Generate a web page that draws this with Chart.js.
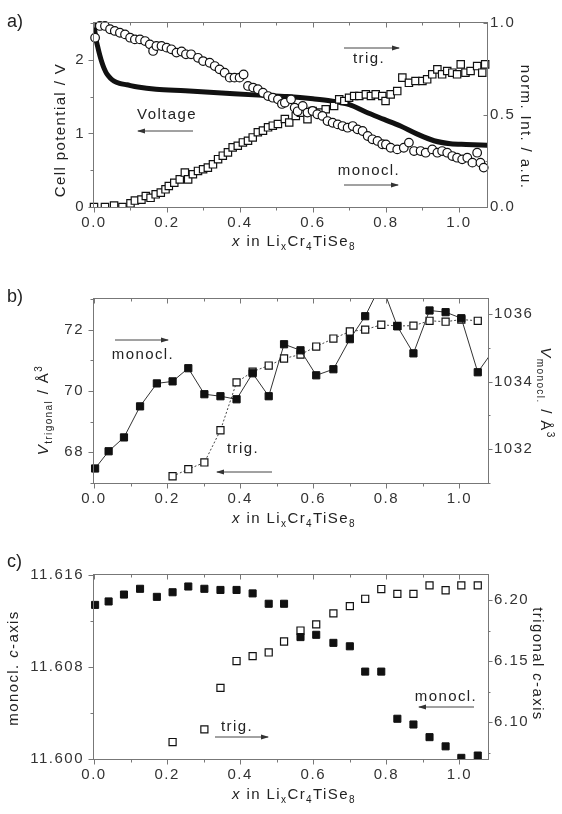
<!DOCTYPE html>
<html>
<head>
<meta charset="utf-8">
<script src="https://cdn.jsdelivr.net/npm/chart.js@4/dist/chart.umd.min.js"></script>
<style>
  body { margin: 0; background: #fff; }
  #page { position: relative; width: 562px; height: 814px; overflow: hidden; }
  canvas { position: absolute; left: 0; }
  svg { position: absolute; left: 0; top: 0; pointer-events: none; }
  svg text { font-family: 'Liberation Sans', Arial, sans-serif; font-size: 15px; letter-spacing: 1.4px; fill: #222; }
  svg .lbl { font-size: 18px; letter-spacing: 0; }
</style>
</head>
<body>
<div id="page">
  <canvas id="chartA" width="562" height="262" style="top:0"></canvas>
  <canvas id="chartB" width="562" height="270" style="top:262px"></canvas>
  <canvas id="chartC" width="562" height="282" style="top:532px"></canvas>
  <svg width="562" height="814">
    <defs>
      <marker id="ah" markerWidth="8" markerHeight="6" refX="7" refY="3" orient="auto" markerUnits="userSpaceOnUse">
        <path d="M0,0.5 L8,3 L0,5.5 z" fill="#333"/>
      </marker>
    </defs>
    <!-- panel labels -->
    <text class="lbl" x="7" y="27">a)</text>
    <text class="lbl" x="7" y="302">b)</text>
    <text class="lbl" x="7" y="567">c)</text>

    <!-- panel a -->
    <text transform="translate(65,130) rotate(-90)" text-anchor="middle">Cell potential / V</text>
    <text transform="translate(521,127) rotate(90)" text-anchor="middle">norm. Int. / a.u.</text>
    <text x="294" y="246" text-anchor="middle"><tspan font-style="italic">x</tspan> in Li<tspan font-size="10" dy="4">x</tspan><tspan dy="-4">Cr</tspan><tspan font-size="10" dy="4">4</tspan><tspan dy="-4">TiSe</tspan><tspan font-size="10" dy="4">8</tspan></text>
    <text x="167" y="119" text-anchor="middle">Voltage</text>
    <line x1="193" y1="131" x2="138" y2="131" stroke="#444" marker-end="url(#ah)"/>
    <text x="369" y="63" text-anchor="middle">trig.</text>
    <line x1="344" y1="48" x2="399" y2="48" stroke="#444" marker-end="url(#ah)"/>
    <text x="369" y="175" text-anchor="middle">monocl.</text>
    <line x1="344" y1="185" x2="398" y2="185" stroke="#444" marker-end="url(#ah)"/>

    <!-- panel b -->
    <text transform="translate(48,410) rotate(-90)" text-anchor="middle"><tspan font-style="italic">V</tspan><tspan font-size="10" dy="4">trigonal</tspan><tspan dy="-4"> / Å</tspan><tspan font-size="10" dy="-6">3</tspan></text>
    <text transform="translate(541,393) rotate(90)" text-anchor="middle"><tspan font-style="italic">V</tspan><tspan font-size="10" dy="4">monocl.</tspan><tspan dy="-4"> / Å</tspan><tspan font-size="10" dy="-6">3</tspan></text>
    <text x="294" y="523" text-anchor="middle"><tspan font-style="italic">x</tspan> in Li<tspan font-size="10" dy="4">x</tspan><tspan dy="-4">Cr</tspan><tspan font-size="10" dy="4">4</tspan><tspan dy="-4">TiSe</tspan><tspan font-size="10" dy="4">8</tspan></text>
    <text x="143" y="359" text-anchor="middle">monocl.</text>
    <line x1="115" y1="340" x2="168" y2="340" stroke="#444" marker-end="url(#ah)"/>
    <text x="243" y="453" text-anchor="middle">trig.</text>
    <line x1="272" y1="472" x2="217" y2="472" stroke="#444" marker-end="url(#ah)"/>

    <!-- panel c -->
    <text transform="translate(18,668) rotate(-90)" text-anchor="middle">monocl. <tspan font-style="italic">c</tspan>-axis</text>
    <text transform="translate(533,664) rotate(90)" text-anchor="middle">trigonal <tspan font-style="italic">c</tspan>-axis</text>
    <text x="294" y="799" text-anchor="middle"><tspan font-style="italic">x</tspan> in Li<tspan font-size="10" dy="4">x</tspan><tspan dy="-4">Cr</tspan><tspan font-size="10" dy="4">4</tspan><tspan dy="-4">TiSe</tspan><tspan font-size="10" dy="4">8</tspan></text>
    <text x="237" y="731" text-anchor="middle">trig.</text>
    <line x1="215" y1="737" x2="268" y2="737" stroke="#444" marker-end="url(#ah)"/>
    <text x="446" y="701" text-anchor="middle">monocl.</text>
    <line x1="474" y1="707" x2="419" y2="707" stroke="#444" marker-end="url(#ah)"/>
  </svg>
</div>
<script>
// ---- panel a: voltage curve (left axis) and normalised intensities (right axis)
const aVoltX = [0, 0.004, 0.01, 0.016, 0.022, 0.028, 0.035, 0.045, 0.055, 0.07, 0.09, 0.12, 0.17, 0.25, 0.35, 0.45, 0.53, 0.6, 0.65, 0.7, 0.745, 0.795, 0.84, 0.886, 0.932, 0.977, 1.02, 1.08];
const aVolt  = [2.5, 2.32, 2.18, 2.06, 1.96, 1.88, 1.81, 1.75, 1.71, 1.68, 1.66, 1.63, 1.60, 1.58, 1.55, 1.52, 1.50, 1.47, 1.44, 1.39, 1.29, 1.19, 1.10, 0.99, 0.90, 0.86, 0.85, 0.84];

const aMonoX = [0.003,0.016,0.030,0.044,0.057,0.071,0.085,0.099,0.112,0.126,0.140,0.153,0.162,0.171,0.185,0.199,0.212,0.226,0.240,0.252,
                0.266,0.285,0.299,0.317,0.331,0.344,0.358,0.372,0.385,0.399,0.410,0.422,0.436,0.449,0.463,0.477,0.490,0.504,0.515,0.523,
                0.540,0.550,0.558,0.572,0.585,0.599,0.612,0.626,0.640,0.654,0.668,0.681,0.695,0.709,0.722,0.736,0.750,0.763,0.777,0.790,
                0.800,0.813,0.831,0.849,0.863,0.877,0.895,0.909,0.927,0.941,0.954,0.968,0.982,0.995,1.009,1.023,1.037,1.050,1.059,1.068];
const aMono  = [0.920,0.984,0.984,0.966,0.957,0.947,0.938,0.920,0.911,0.911,0.902,0.884,0.848,0.875,0.875,0.866,0.857,0.839,0.845,0.830,
                0.830,0.811,0.793,0.784,0.766,0.748,0.730,0.703,0.703,0.703,0.720,0.658,0.649,0.640,0.621,0.603,0.594,0.585,0.560,0.567,
                0.585,0.540,0.520,0.549,0.513,0.522,0.504,0.495,0.467,0.458,0.449,0.440,0.431,0.440,0.422,0.413,0.386,0.368,0.359,0.341,
                0.340,0.322,0.313,0.322,0.350,0.304,0.304,0.295,0.313,0.295,0.304,0.295,0.277,0.268,0.259,0.268,0.241,0.295,0.241,0.214];

const aTrigX = [0.000,0.030,0.055,0.078,0.100,0.112,0.130,0.142,0.155,0.169,0.183,0.196,0.205,0.220,0.235,0.249,0.258,0.271,0.285,0.299,
                0.312,0.326,0.340,0.353,0.367,0.380,0.394,0.408,0.422,0.435,0.449,0.463,0.477,0.490,0.504,0.523,0.535,0.553,0.567,0.585,
                0.599,0.617,0.635,0.658,0.672,0.686,0.699,0.713,0.727,0.745,0.759,0.772,0.790,0.799,0.813,0.831,0.845,0.863,0.881,0.900,
                0.913,0.927,0.941,0.954,0.968,0.982,0.995,1.005,1.018,1.032,1.050,1.064,1.072];
const aTrig  = [0.000,0.000,0.008,0.000,0.020,0.035,0.040,0.060,0.050,0.069,0.078,0.096,0.114,0.132,0.150,0.187,0.150,0.178,0.196,0.205,
                0.214,0.232,0.260,0.279,0.297,0.324,0.333,0.351,0.360,0.378,0.406,0.415,0.433,0.442,0.451,0.478,0.459,0.495,0.513,0.477,
                0.522,0.513,0.531,0.549,0.585,0.576,0.594,0.603,0.603,0.612,0.603,0.612,0.603,0.576,0.612,0.630,0.703,0.675,0.685,0.685,
                0.694,0.721,0.748,0.721,0.739,0.730,0.721,0.775,0.730,0.739,0.766,0.730,0.775];

// ---- panels b and c share the same compositions
const xComp = [0.003,0.04,0.082,0.126,0.172,0.215,0.258,0.302,0.346,0.39,0.434,0.478,0.52,0.565,0.608,0.655,0.70,0.742,0.786,0.83,0.874,0.918,0.962,1.005,1.05,1.094];
const bMonoVol = [1031.43,1031.94,1032.35,1033.27,1033.95,1034.01,1034.40,1033.63,1033.57,1033.48,1034.25,1033.57,1035.11,1034.93,1034.19,1034.37,1035.26,1035.94,1036.9,1035.64,1034.84,1036.11,1036.06,1035.88,1034.28,1034.95];
const bTrigVol = [null,null,null,null,null,67.22,67.45,67.67,68.72,70.28,70.63,70.83,71.06,71.19,71.45,71.71,71.94,72.00,72.16,72.12,72.13,72.29,72.26,72.33,72.29,null];
const cMonoC = [11.6134,11.6137,11.6143,11.6148,11.6141,11.6145,11.6150,11.6148,11.6147,11.6147,11.6144,11.6135,11.6135,11.6106,11.6108,11.6101,11.6098,11.6076,11.6076,11.6035,11.6030,11.6019,11.6011,11.6001,11.6003,null];
const cTrigC = [null,null,null,null,null,6.0836,null,6.094,6.128,6.150,6.154,6.157,6.166,6.175,6.180,6.189,6.195,6.201,6.209,6.205,6.205,6.212,6.208,6.212,6.212,null];

const AXIS = '#777';
const TEXT = '#333';
const INK = '#111';
const FONT = { family: "'Liberation Sans', Arial, sans-serif", size: 15 };

const pts = (xs, ys) => xs.map((x, i) => ({ x, y: ys[i] })).filter(p => p.y !== null);

// box + tick marks (minor ticks are the unlabelled ones)
const frame = {
  id: 'frame',
  beforeDraw(chart) { chart.ctx.letterSpacing = '1.5px'; },
  afterDatasetsDraw(chart, args, opts) {
    const { ctx, chartArea: a, scales } = chart;
    const L = a.left - 0.5, R = a.right + 0.5, T = a.top - 0.5, B = a.bottom + 0.5;
    const len = t => (t.label ? 5 : 3);
    ctx.save();
    ctx.strokeStyle = AXIS;
    ctx.lineWidth = 1;
    ctx.strokeRect(L, T, R - L, B - T);
    ctx.beginPath();
    scales.x.ticks.forEach(t => {
      const p = Math.round(scales.x.getPixelForValue(t.value)) + 0.5;
      ctx.moveTo(p, B); ctx.lineTo(p, B + len(t));
      ctx.moveTo(p, T); ctx.lineTo(p, T + len(t));
    });
    scales.y.ticks.forEach(t => {
      const p = Math.round(scales.y.getPixelForValue(t.value)) + 0.5;
      ctx.moveTo(L, p); ctx.lineTo(L - len(t), p);
    });
    const dir = opts.rightIn ? -1 : 1;
    scales.y2.ticks.forEach(t => {
      const p = Math.round(scales.y2.getPixelForValue(t.value)) + 0.5;
      ctx.moveTo(R, p); ctx.lineTo(R + dir * (len(t) - 1), p);
    });
    ctx.stroke();
    ctx.restore();
  }
};

function xScale(max, h) {
  return {
    type: 'linear', position: 'bottom', min: 0, max,
    grid: { display: false, drawTicks: false }, border: { display: false },
    ticks: { stepSize: 0.1, includeBounds: false, autoSkip: false, maxRotation: 0, padding: 7, color: TEXT, font: FONT,
      callback: v => (Math.round(v * 10) % 2 === 0 ? v.toFixed(1) : '') },
    afterFit: s => { s.height = h; }
  };
}

function yScale(pos, min, max, step, fmt, width, pad) {
  return {
    type: 'linear', position: pos, min, max,
    grid: { display: false, drawTicks: false }, border: { display: false },
    ticks: { stepSize: step, includeBounds: false, autoSkip: false, padding: pad, color: TEXT, font: FONT, callback: fmt },
    afterFit: s => { s.width = width; }
  };
}

function baseOptions(top, scales, rightIn) {
  return {
    responsive: false, animation: false, devicePixelRatio: 1,
    layout: { padding: { top, left: 0, right: 0, bottom: 0 } },
    plugins: { legend: { display: false }, tooltip: { enabled: false }, frame: { rightIn } },
    scales
  };
}

const openPt = (style, r) => ({ pointStyle: style, pointRadius: r, pointBorderWidth: 1.2, pointBorderColor: INK, pointBackgroundColor: '#fff' });
const fullPt = r => ({ pointStyle: 'rect', pointRadius: r, pointBorderWidth: 1, pointBorderColor: INK, pointBackgroundColor: INK });

// panel a
new Chart(document.getElementById('chartA'), {
  type: 'scatter',
  data: {
    datasets: [
      { label: 'monocl.', data: pts(aMonoX, aMono), yAxisID: 'y2', clip: { left: 10, top: 10, right: 4, bottom: 0 }, ...openPt('circle', 4.3) },
      { label: 'trig.', data: pts(aTrigX, aTrig), yAxisID: 'y2', clip: { left: 10, top: 10, right: 4, bottom: 0 }, ...openPt('rect', 5.2) },
      { label: 'Voltage', data: pts(aVoltX, aVolt), yAxisID: 'y', showLine: true, pointRadius: 0,
        borderColor: INK, borderWidth: 5, cubicInterpolationMode: 'monotone' }
    ]
  },
  options: baseOptions(23, {
    x: xScale(1.077, 55),
    y: yScale('left', 0, 2.5, 0.5, v => (Math.abs(v - Math.round(v)) < 1e-6 ? String(Math.round(v)) : ''), 94, 9),
    y2: yScale('right', 0, 1, 0.25, v => (Math.round(v * 4) % 2 === 0 ? v.toFixed(1) : ''), 75, 3)
  }, true),
  plugins: [frame]
});

// panel b
new Chart(document.getElementById('chartB'), {
  type: 'scatter',
  data: {
    datasets: [
      { label: 'monocl.', data: pts(xComp, bMonoVol), yAxisID: 'y2', clip: { left: 10, top: 0, right: 0, bottom: 10 },
        showLine: true, borderColor: '#333', borderWidth: 1, ...fullPt(5.1) },
      { label: 'trig.', data: pts(xComp, bTrigVol), yAxisID: 'y', clip: { left: 10, top: 0, right: 0, bottom: 10 },
        showLine: true, borderColor: '#444', borderWidth: 1, borderDash: [2, 2], ...openPt('rect', 5) }
    ]
  },
  options: baseOptions(37, {
    x: xScale(1.078, 49),
    y: yScale('left', 67, 73, 1, v => (Math.round(v) % 2 === 0 ? String(Math.round(v)) : ''), 94, 10),
    y2: yScale('right', 1031, 1036.45, 1, v => (Math.round(v) % 2 === 0 ? String(Math.round(v)) : ''), 74, 6)
  }, false),
  plugins: [frame]
});

// panel c
new Chart(document.getElementById('chartC'), {
  type: 'scatter',
  data: {
    datasets: [
      { label: 'monocl.', data: pts(xComp, cMonoC), yAxisID: 'y', clip: { left: 10, top: 10, right: 10, bottom: 0 }, ...fullPt(5) },
      { label: 'trig.', data: pts(xComp, cTrigC), yAxisID: 'y2', clip: { left: 10, top: 10, right: 10, bottom: 0 }, ...openPt('rect', 5) }
    ]
  },
  options: baseOptions(43, {
    x: xScale(1.078, 55),
    y: yScale('left', 11.600, 11.616, 0.004, v => (Math.round(v * 1000) % 8 === 0 ? v.toFixed(3) : ''), 94, 10),
    y2: yScale('right', 6.0697, 6.2205, 0.025, v => (Math.round(v * 1000) % 50 === 0 ? v.toFixed(2) : ''), 74, 6)
  }, false),
  plugins: [frame]
});
</script>
</body>
</html>
